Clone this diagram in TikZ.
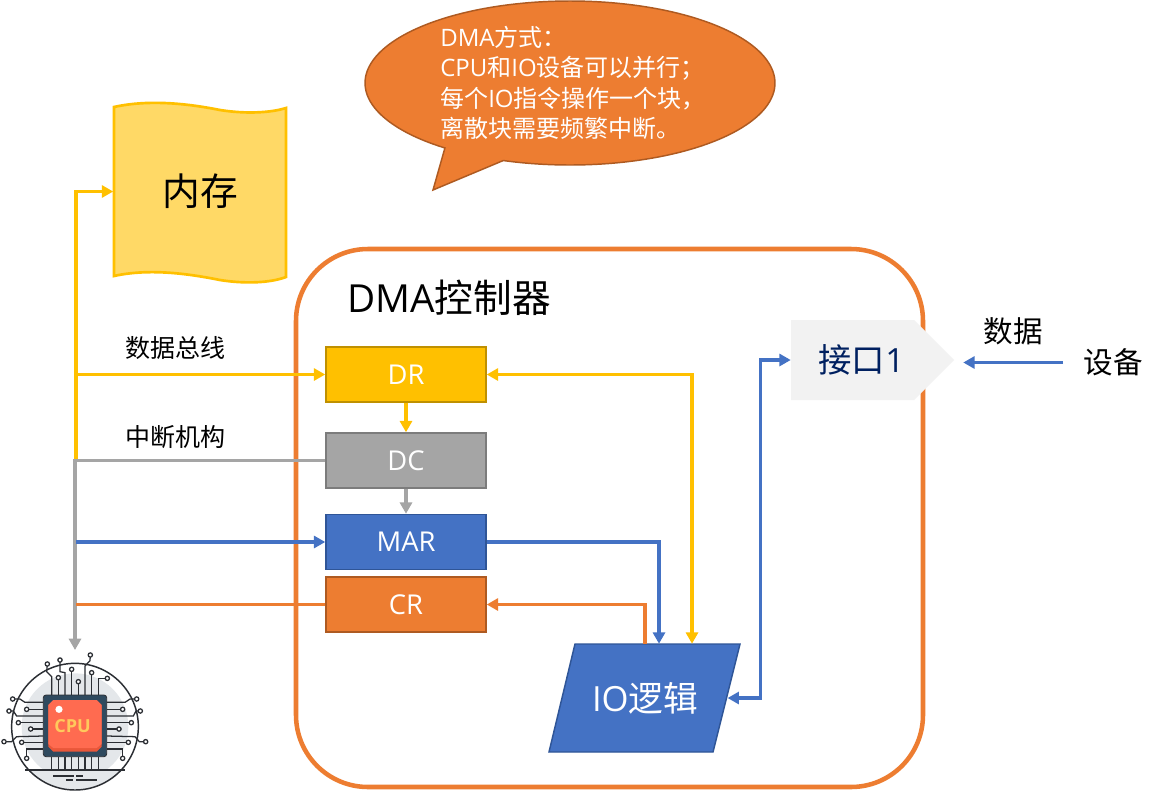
\documentclass[tikz,border=0pt]{standalone}
\usepackage{fontspec}
\setmainfont{Open Sans}
\newfontfamily\cjk{Noto Sans CJK SC}
\usetikzlibrary{arrows.meta,positioning}
\definecolor{cYel}{HTML}{FFC000}
\definecolor{cYelD}{HTML}{BF9000}
\definecolor{cMem}{HTML}{FFD966}
\definecolor{cGry}{HTML}{A5A5A5}
\definecolor{cGryD}{HTML}{7C7C7C}
\definecolor{cBlu}{HTML}{4472C4}
\definecolor{cBluD}{HTML}{2F5597}
\definecolor{cOrg}{HTML}{ED7D31}
\definecolor{cOrgD}{HTML}{AE5A21}
\definecolor{cNavy}{HTML}{002060}
\definecolor{cIf}{HTML}{F2F2F2}
\definecolor{cChip}{HTML}{2F4A5F}
\definecolor{cWire}{HTML}{2B2E33}
\definecolor{cHalo}{HTML}{E4E7EA}
\definecolor{cRed}{HTML}{FF6B50}
\definecolor{cRedD}{HTML}{E9573A}
\definecolor{cCpuT}{HTML}{FFC95C}
\tikzset{
  regbox/.style={draw=#1,line width=1.1pt,minimum width=120pt,minimum height=41.25pt,inner sep=0pt,text=white,font=\fontsize{20.5}{22}\selectfont},
  wire/.style={draw=#1,line width=2.3pt,-{Triangle[length=8.5pt,width=9pt]}},
  wireplain/.style={draw=#1,line width=2.3pt},
  wiretwo/.style={draw=#1,line width=2.3pt,{Triangle[length=8.5pt,width=9pt]}-{Triangle[length=8.5pt,width=9pt]}},
  labelsm/.style={inner sep=0pt,font=\fontsize{18.75}{20}\selectfont\cjk},
  labelmd/.style={inner sep=0pt,font=\fontsize{22.2}{24}\selectfont\cjk},
  icowire/.style={draw=cWire,line width=0.95pt},
  pinhead/.style={draw=cWire,line width=0.95pt,fill=white},
}
\begin{document}
\begin{tikzpicture}[x=0.75pt,y=-0.75pt]
\useasboundingbox (0,0) rectangle (1161,790);
\fill[white] (0,0) rectangle (1161,790);
% callout
\draw[fill=cOrg,draw=cOrgD,line width=1.1pt] plot[domain=127.6:469,samples=140,smooth] ({570+205*cos(\x)},{83+82*sin(\x)}) -- (433,190) -- cycle;
\node[anchor=north west,inner sep=0pt,text=white,align=left,font=\fontsize{18}{22.8}\selectfont] (note) at (440,26)
 {DMA{\cjk 方式：}\\CPU{\cjk 和}IO{\cjk 设备可以并行；}\\{\cjk 每个}IO{\cjk 指令操作一个块，}\\{\cjk 离散块需要频繁中断。}};
% memory
\draw[fill=cMem,draw=cYel,line width=2pt]
  (114,107) .. controls (150,99) and (190,104) .. (220,110) .. controls (245,114) and (270,113) .. (286,108)
  -- (286,277) .. controls (270,283) and (245,284) .. (220,280) .. controls (190,274) and (150,268) .. (114,276) -- cycle;
\node[inner sep=0pt,minimum width=129.75pt,minimum height=127pt,font=\fontsize{28.3}{30}\selectfont\cjk] (mem) at (200,191.5) {\raisebox{-4.5pt}{内存}};
% DMA controller frame
\draw[draw=cOrg,line width=3.4pt,rounded corners=54pt] (296,249) rectangle (923,787);
\node[anchor=west,inner sep=0pt,font=\fontsize{29}{32}\selectfont] (dmat) at (347,298) {DMA{\cjk 控制器}};
% interface
\fill[cIf] (791,320) -- (914,320) -- (954,360) -- (914,400) -- (791,400) -- cycle;
\node[inner sep=0pt,minimum width=122.25pt,minimum height=60pt,text=cNavy,font=\fontsize{25}{28}\selectfont] (ifc) at (872.5,360) {\hspace*{-16.5pt}{\cjk 接口}1};
% registers
\node[regbox=cYelD,fill=cYel] (dr) at (406,374.5) {DR};
\node[regbox=cGryD,fill=cGry] (dc) at (406,460.5) {DC};
\node[regbox=cBluD,fill=cBlu] (mar) at (406,542) {MAR};
\node[regbox=cOrgD,fill=cOrg] (cr) at (406,604.5) {CR};
% IO logic
\draw[fill=cBlu,draw=cBluD,line width=1.1pt] (575,644) -- (740,644) -- (713,752) -- (549,752) -- cycle;
\node[inner sep=0pt,minimum width=123.5pt,minimum height=81pt,text=white,font=\fontsize{26}{28}\selectfont] (io) at (645,698) {IO{\cjk 逻辑}};
% labels
\node[labelsm] (lbus) at (175,348) {数据总线};
\node[labelsm] (lint) at (175,437) {中断机构};
\node[labelmd] (ldata) at (1013,331) {数据};
\node[inner xsep=15pt,inner ysep=0pt,font=\fontsize{22.2}{24}\selectfont\cjk] (dev) at (1113,362.5) {\raisebox{-5.5pt}{设备}};
% bus coordinates
\coordinate (busY) at (76,460.5);
\coordinate (cpuIn) at (75,650);
% connectors
\draw[wire=cYel] (busY) |- (mem.west);
\draw[wire=cYel] (busY |- dr.west) -- (dr.west);
\draw[wire=cGry] (dc.west) -| (cpuIn);
\draw[wire=cBlu] (busY |- mar.west) -- (mar.west);
\draw[wireplain=cOrg] (cr.west) -- (busY |- cr.west);
\draw[wire=cYel] (dr.south) -- (dc.north);
\draw[wire=cGry] (dc.south) -- (mar.north);
\draw[wire=cBlu] (mar.east) -| ([xshift=10.5pt]io.north);
\draw[wire=cOrg] (io.north) |- (cr.east);
\draw[wiretwo=cYel] (dr.east) -| ([xshift=35.25pt]io.north);
\draw[wiretwo=cBlu] (ifc.west) -- ++(-30,0) |- (io.east);
\draw[wire=cBlu,shorten >=6.75pt] (dev.west) -- (dev.west -| ifc.east);
% CPU icon
\begin{scope}[shift={(0,640)},x=0.25pt,y=-0.25pt]
  \fill[cHalo] (225,260) circle[radius=40pt];
  \begin{scope}
    \clip (225,260) circle[radius=47.5pt];
    \fill[cHalo] (40,390) rectangle (410,460);
  \end{scope}
  \draw[icowire,line width=1.1pt] (225,260) circle[radius=47.5pt];
  \foreach \xx in {155,175,...,295} \draw[icowire] (\xx,350) -- (\xx,390);
  \draw[icowire] (75,390) -- (375,390);
  \draw[icowire] (160,408) -- (222,408) (228,408) -- (250,408) (198,420) -- (218,420) (228,420) -- (290,420);
  \foreach \pth/\ex/\ey in {
    {(155,165) -- (155,110) -- (140,95)}/142/72,
    {(175,165)}/175/113,
    {(195,165) -- (195,98) -- (180,95)}/180/60,
    {(215,165)}/215/88,
    {(235,165)}/235/125,
    {(255,165) -- (255,78) -- (270,62)}/271/45,
    {(275,165)}/275/98,
    {(295,165) -- (295,115)}/322/115,
    {(130,187) -- (75,187) -- (60,177)}/38/177,
    {(130,208)}/80/208,
    {(130,228) -- (50,228) -- (40,213)}/27/213,
    {(130,248)}/55/248,
    {(130,267)}/92/267,
    {(130,288) -- (50,290) -- (35,305)}/12/305,
    {(130,307)}/65/307,
    {(130,327) -- (80,327)}/80/355,
    {(320,187) -- (375,187) -- (390,177)}/410/177,
    {(320,208)}/368/208,
    {(320,228) -- (400,228) -- (408,213)}/421/213,
    {(320,248)}/394/248,
    {(320,267)}/357/267,
    {(320,288) -- (405,290) -- (418,305)}/437/305,
    {(320,307)}/385/307,
    {(320,327) -- (368,327)}/368/355}
  {
    \draw[icowire] \pth -- (\ex,\ey);
    \draw[pinhead] (\ex,\ey) circle[radius=1.6pt];
  }
  \fill[cChip,draw=cWire,line width=0.6pt,rounded corners=2pt] (130,165) rectangle (320,350);
  \fill[cRedD] (145,195) -- (160,180) -- (290,180) -- (305,195) -- (305,320) -- (290,335) -- (160,335) -- (145,320) -- cycle;
  \fill[cRed] (145,195) -- (160,180) -- (290,180) -- (305,195) -- (305,312) -- (290,324) -- (160,324) -- (145,312) -- cycle;
  \fill[white] (177,208) circle[radius=2.7pt];
  \node[inner sep=0pt,text=cCpuT,font=\fontsize{13.5}{14}\selectfont\bfseries] (cputxt) at (218,258) {CPU};
\end{scope}
\end{tikzpicture}
\end{document}
